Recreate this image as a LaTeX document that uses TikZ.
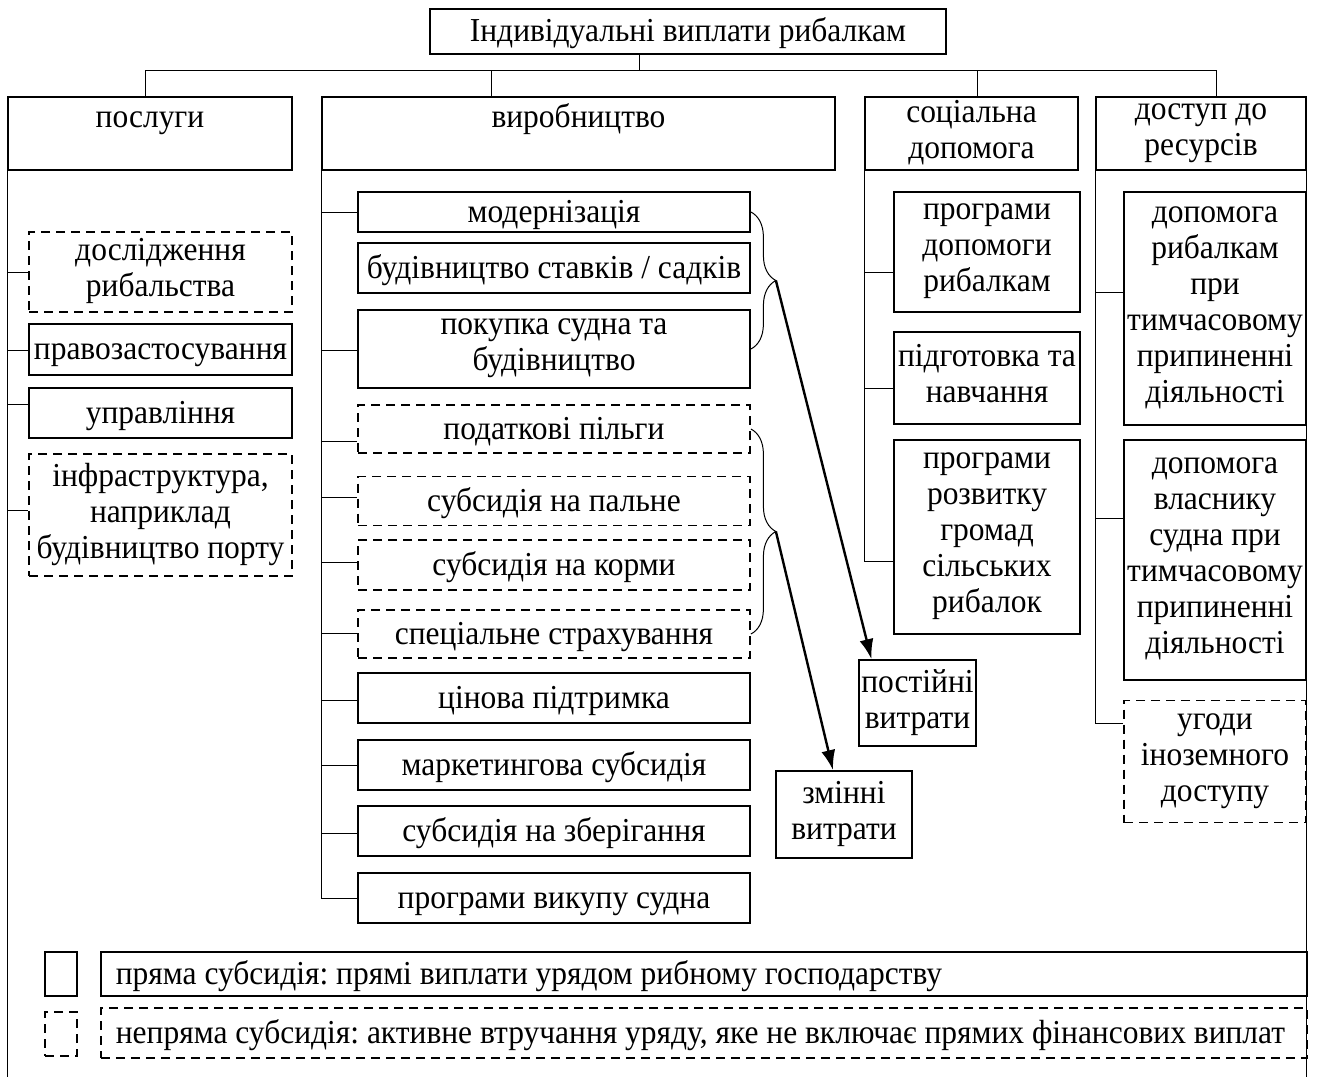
\documentclass[tikz,border=0pt]{standalone}
\usepackage{fontspec}
\setmainfont{Liberation Serif}[FakeStretch=0.94]
\usetikzlibrary{arrows.meta}
\usetikzlibrary{calc}
\usetikzlibrary{decorations.pathreplacing}
\newcommand{\upstrut}{\rule{0pt}{29pt}}
\newcommand{\lowstrut}{\rule[-8.5pt]{0pt}{8.5pt}}
\tikzset{box/.style = {draw, line width=1.8pt, align=center, inner xsep=2pt, inner ysep=0pt,
                       font=\fontsize{33.5}{36}\selectfont,
                       execute at begin node=\upstrut, execute at end node=\lowstrut}}
\tikzset{dbox/.style = {box, dash pattern=on 9pt off 6pt}}
\tikzset{sz/.style 2 args = {minimum width=#1pt, minimum height=#2pt}}
\tikzset{link/.style = {line width=1pt}}
\tikzset{brc/.style = {line width=1pt, decorate, decoration={brace, amplitude=25pt}}}
\tikzset{cost/.style = {line width=2.4pt, -{Latex[length=20pt, width=14pt]}}}
\frenchspacing

\begin{document}
\begin{tikzpicture}[x=1pt, y=-1pt]
  \useasboundingbox (0, 0) rectangle (1317, 1077);

  \node [box, sz={516}{45}] (root) at (688, 31.5) {Індивідуальні виплати рибалкам};

  \node [box, sz={284}{73}, text depth=41pt] (posl) at (150, 133.5) {послуги};
  \node [box, sz={513}{73}, text depth=41pt] (vyr) at (578.5, 133.5) {виробництво};
  \node [box, sz={213}{73}, text depth=8.5pt] (soc) at (971.5, 133.5) {соціальна\\допомога};
  \node [box, sz={210}{73}, text depth=8.5pt] (dost) at (1201, 133.5) {доступ до\\ресурсів};

  \node [dbox, sz={263}{80}] (doslid) at (160.5, 272) {дослідження\\рибальства};
  \node [box, sz={263}{51}] (pravo) at (160.5, 349.5) {правозастосування};
  \node [box, sz={263}{50}] (uprav) at (160.5, 413) {управління};
  \node [dbox, sz={263}{122}] (infra) at (160.5, 515) {інфраструктура,\\наприклад\\будівництво порту};

  \node [box, sz={392}{40}] (modern) at (554, 212) {модернізація};
  \node [box, sz={392}{50}] (budst) at (554, 268) {будівництво ставків / садків};
  \node [box, sz={392}{78}] (pokup) at (554, 349) {покупка судна та\\будівництво};
  \node [dbox, sz={392}{48}] (podat) at (554, 429) {податкові пільги};
  \node [dbox, sz={392}{49}] (palne) at (554, 501) {субсидія на пальне};
  \node [dbox, sz={392}{50}] (kormy) at (554, 565) {субсидія на корми};
  \node [dbox, sz={392}{48}] (strakh) at (554, 634) {спеціальне страхування};
  \node [box, sz={392}{50}] (tsin) at (554, 698) {цінова підтримка};
  \node [box, sz={392}{50}] (market) at (554, 765) {маркетингова субсидія};
  \node [box, sz={392}{50}] (zberig) at (554, 831) {субсидія на зберігання};
  \node [box, sz={392}{50}] (vykup) at (554, 898) {програми викупу судна};

  \node [box, sz={186}{120}] (progdop) at (987, 252) {програми\\допомоги\\рибалкам};
  \node [box, sz={186}{92}] (pidgot) at (987, 378) {підготовка та\\навчання};
  \node [box, sz={186}{194}] (rozv) at (987, 537) {програми\\розвитку\\громад\\сільських\\рибалок};

  \node [box, sz={182}{233}] (dopryb) at (1215, 308.5) {допомога\\рибалкам\\при\\тимчасовому\\припиненні\\діяльності};
  \node [box, sz={182}{240}] (dopvl) at (1215, 560) {допомога\\власнику\\судна при\\тимчасовому\\припиненні\\діяльності};
  \node [dbox, sz={182}{122}] (ugody) at (1215, 761.5) {угоди\\іноземного\\доступу};

  \node [box, sz={115}{86}] (postiyni) at (917.5, 703) {постійні\\витрати};
  \node [box, sz={136}{87}] (zminni) at (844, 814.5) {змінні\\витрати};

  \node [box, sz={32}{44}] (lpr) at (61, 974) {};
  \node [box, sz={1206}{44}, inner xsep=15pt, anchor=west] (lprt) at (100, 974)
    {\makebox[1176pt][l]{пряма субсидія: прямі виплати урядом рибному господарству}};
  \node [dbox, sz={32}{44}] (lnp) at (61, 1034) {};
  \node [dbox, sz={1206}{50}, inner xsep=15pt, anchor=west] (lnpt) at (100, 1033)
    {\makebox[1176pt][l]{непряма субсидія: активне втручання уряду, яке не включає прямих фінансових виплат}};

  \coordinate (bus) at (0, 70);
  \coordinate (bottom) at (0, 1077);
  \coordinate (stem) at ($(root.south west)!0.407!(root.south east)$);
  \draw [link] (stem) -- (stem |- bus);
  \foreach \n/\f in {posl/0.486, vyr/0.331, soc/0.53, dost/0.571}
    \coordinate (\n-top) at ($(\n.north west)!\f!(\n.north east)$);
  \foreach \n in {posl, vyr, soc, dost}
    \draw [link] (\n-top) -- (\n-top |- bus);
  \draw [link] (posl-top |- bus) -- (dost-top |- bus);

  \draw [link] (posl.south west) -- (posl.south west |- bottom);
  \draw [link] (dost.south east) -- (dost.south east |- bottom);
  \foreach \n/\y in {doslid/272, pravo/350, uprav/404, infra/510}
    \draw [link] (posl.south west |- 0,\y) -- (\n.west |- 0,\y);

  \draw [link] (vyr.south west) |- (vykup.west);
  \foreach \n/\y in {modern/212, pokup/350, podat/441, palne/497, kormy/562,
                     strakh/633, tsin/700, market/765, zberig/833}
    \draw [link] (vyr.south west |- 0,\y) -- (\n.west |- 0,\y);

  \draw [link] (soc.south west) -- (soc.south west |- 0,561);
  \foreach \n/\y in {progdop/272, pidgot/388, rozv/561}
    \draw [link] (soc.south west |- 0,\y) -- (\n.west |- 0,\y);

  \draw [link] (dost.south west) -- (dost.south west |- 0,723);
  \foreach \n/\y in {dopryb/292, dopvl/518, ugody/723}
    \draw [link] (dost.south west |- 0,\y) -- (\n.west |- 0,\y);

  \draw [brc] (modern.east) -- (pokup.east);
  \draw [brc] (podat.east) -- (strakh.east);
  \coordinate (tipA) at ($(modern.east)!0.5!(pokup.east) + (25, 0)$);
  \coordinate (tipB) at ($(podat.east)!0.5!(strakh.east) + (25, 0)$);
  \draw [cost] (tipA) -- ($(postiyni.north west)!0.11!(postiyni.north east)$);
  \draw [cost] (tipB) -- ($(zminni.north west)!0.42!(zminni.north east)$);
\end{tikzpicture}
\end{document}
